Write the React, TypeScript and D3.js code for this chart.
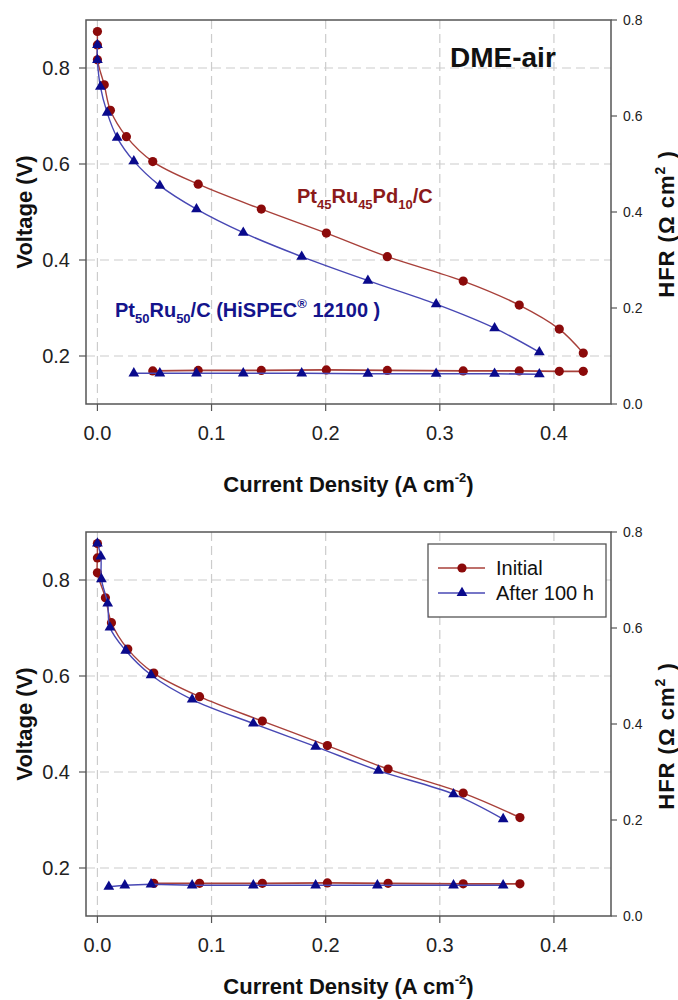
import React from 'react';
import * as d3 from 'd3';

// ---------- axis ticks ----------
const X_TICKS = [0, 0.1, 0.2, 0.3, 0.4];
const V_TICKS = [0.2, 0.4, 0.6, 0.8];
const HFR_TICKS = [0, 0.2, 0.4, 0.6, 0.8];
const X_TICK_LABELS = ['0.0', '0.1', '0.2', '0.3', '0.4'];
const V_TICK_LABELS = ['0.2', '0.4', '0.6', '0.8'];
const HFR_TICK_LABELS = ['0.0', '0.2', '0.4', '0.6', '0.8'];

// ---------- top panel: Pt45Ru45Pd10/C (red) vs Pt50Ru50/C (blue) ----------
const topRedJ = [0, 0, 0, 0.006, 0.0114, 0.0254, 0.0485, 0.0883, 0.1436, 0.2006, 0.254, 0.3205, 0.3696, 0.4047, 0.4257];
const topRedV = [0.876, 0.848, 0.817, 0.765, 0.712, 0.657, 0.605, 0.558, 0.506, 0.456, 0.407, 0.356, 0.306, 0.256, 0.206];
const topBlueJ = [0, 0, 0.0026, 0.0085, 0.0173, 0.0319, 0.0547, 0.0868, 0.1278, 0.179, 0.237, 0.2968, 0.348, 0.3872];
const topBlueV = [0.848, 0.817, 0.761, 0.707, 0.655, 0.606, 0.555, 0.506, 0.457, 0.407, 0.357, 0.308, 0.258, 0.208];
const topRedHfrJ = [0.0485, 0.0883, 0.1436, 0.2006, 0.254, 0.3205, 0.3696, 0.4047, 0.4257];
const topRedHfr = [0.069, 0.070, 0.070, 0.071, 0.070, 0.069, 0.069, 0.068, 0.068];
const topBlueHfrJ = [0.0319, 0.0547, 0.0868, 0.1278, 0.179, 0.237, 0.2968, 0.348, 0.3872];
const topBlueHfr = [0.064, 0.064, 0.064, 0.064, 0.064, 0.063, 0.063, 0.063, 0.062];

// ---------- bottom panel: Initial (red) vs After 100 h (blue) ----------
const botRedJ = [0, 0, 0, 0.007, 0.0123, 0.0266, 0.0494, 0.0895, 0.1445, 0.2015, 0.2547, 0.3205, 0.3702];
const botRedV = [0.876, 0.846, 0.815, 0.763, 0.711, 0.656, 0.606, 0.557, 0.506, 0.455, 0.406, 0.356, 0.305];
const botBlueJ = [0, 0.003, 0.0035, 0.009, 0.011, 0.0248, 0.047, 0.083, 0.1366, 0.1912, 0.2462, 0.312, 0.3555];
const botBlueV = [0.876, 0.849, 0.802, 0.751, 0.701, 0.653, 0.602, 0.551, 0.501, 0.453, 0.403, 0.354, 0.302];
const botRedHfrJ = [0.0494, 0.0895, 0.1445, 0.2015, 0.2547, 0.3205, 0.3702];
const botRedHfr = [0.068, 0.068, 0.068, 0.069, 0.068, 0.067, 0.067];
const botBlueHfrJ = [0.01, 0.024, 0.047, 0.083, 0.1366, 0.1912, 0.2453, 0.312, 0.3555];
const botBlueHfr = [0.061, 0.064, 0.066, 0.064, 0.064, 0.064, 0.064, 0.064, 0.064];

const LEGEND_LABELS = ['Initial', 'After 100 h'];

const RED_LINE = '#a8403a';
const RED_MARK = '#8b0a0a';
const BLUE_LINE = '#4848b4';
const BLUE_MARK = '#0a0a8c';
const AXIS = '#555';
const GRID = '#cccccc';
const FONT = 'Arial, "Liberation Sans", Helvetica, sans-serif';

const zip = (xs: number[], ys: number[]) => xs.map((x, i) => [x, ys[i]] as [number, number]);

const triPath = d3.symbol(d3.symbolTriangle, 50)() as string;

type PanelProps = {
  oy: number;
  titleGap: number;
  polRed: [number, number][];
  polBlue: [number, number][];
  hfrRed: [number, number][];
  hfrBlue: [number, number][];
  children?: React.ReactNode;
};

function Panel({ oy, titleGap, polRed, polBlue, hfrRed, hfrBlue, children }: PanelProps) {
  const L = 86, R = 611, T = oy + 20, B = oy + 404;
  const x = d3.scaleLinear().domain([-0.01, 0.45]).range([L, R]);
  const yV = d3.scaleLinear().domain([0.1, 0.9]).range([B, T]);
  const yH = d3.scaleLinear().domain([0, 0.8]).range([B, T]);
  const curve = d3.line<[number, number]>().x(d => x(d[0])).y(d => yV(d[1])).curve(d3.curveCatmullRom.alpha(0.5));
  const hline = d3.line<[number, number]>().x(d => x(d[0])).y(d => yH(d[1]));

  const circles = (pts: [number, number][], ys: (v: number) => number, key: string) =>
    pts.map((d, i) => <circle key={key + i} cx={x(d[0])} cy={ys(d[1])} r={4.6} fill={RED_MARK} />);
  const tris = (pts: [number, number][], ys: (v: number) => number, key: string) =>
    pts.map((d, i) => <path key={key + i} d={triPath} transform={`translate(${x(d[0])},${ys(d[1])})`} fill={BLUE_MARK} />);

  return (
    <g>
      {/* grid */}
      {X_TICKS.map(t => (
        <line key={'gx' + t} x1={x(t)} x2={x(t)} y1={T} y2={B} stroke={GRID} strokeWidth={1.2} strokeDasharray="9,5" />
      ))}
      {V_TICKS.map(t => (
        <line key={'gy' + t} x1={L} x2={R} y1={yV(t)} y2={yV(t)} stroke={GRID} strokeWidth={1.2} strokeDasharray="9,5" />
      ))}
      {/* frame */}
      <rect x={L} y={T} width={R - L} height={B - T} fill="none" stroke={AXIS} strokeWidth={1.5} />
      {/* left ticks */}
      {V_TICKS.map((t, i) => (
        <g key={'lt' + t}>
          <line x1={L - 7} x2={L} y1={yV(t)} y2={yV(t)} stroke={AXIS} strokeWidth={1.2} />
          <text x={L - 16} y={yV(t)} dy="0.36em" textAnchor="end" fontSize={20} fill="#222" fontFamily={FONT}>{V_TICK_LABELS[i]}</text>
        </g>
      ))}
      {/* bottom ticks */}
      {X_TICKS.map((t, i) => (
        <g key={'bt' + t}>
          <line x1={x(t)} x2={x(t)} y1={B} y2={B + 7} stroke={AXIS} strokeWidth={1.2} />
          <text x={x(t)} y={B + 36} textAnchor="middle" fontSize={20} fill="#222" fontFamily={FONT}>{X_TICK_LABELS[i]}</text>
        </g>
      ))}
      {/* right ticks */}
      {HFR_TICKS.map((t, i) => (
        <g key={'rt' + t}>
          <line x1={R} x2={R + 6} y1={yH(t)} y2={yH(t)} stroke={AXIS} strokeWidth={1.2} />
          <text x={R + 12} y={yH(t)} dy="0.36em" fontSize={14} fill="#222" fontFamily={FONT}>{HFR_TICK_LABELS[i]}</text>
        </g>
      ))}
      {/* axis titles */}
      <text x={(L + R) / 2} y={B + titleGap} textAnchor="middle" fontSize={22} fontWeight="bold" fill="#111" fontFamily={FONT}>
        Current Density (A cm<tspan fontSize={13} dy={-10}>-2</tspan><tspan dy={10}>)</tspan>
      </text>
      <text transform={`translate(32,${(T + B) / 2}) rotate(-90)`} textAnchor="middle" fontSize={22} fontWeight="bold" fill="#111" fontFamily={FONT}>
        Voltage (V)
      </text>
      <text transform={`translate(674,${(T + B) / 2 + 12}) rotate(-90)`} textAnchor="middle" fontSize={22} fontWeight="bold" fill="#111" fontFamily={FONT} letterSpacing={1}>
        HFR (Ω cm<tspan fontSize={14} dy={-9}>2</tspan><tspan dy={9}> )</tspan>
      </text>

      {/* series */}
      <path d={curve(polRed) as string} fill="none" stroke={RED_LINE} strokeWidth={1.4} />
      <path d={hline(hfrRed) as string} fill="none" stroke={RED_LINE} strokeWidth={1.8} />
      {circles(polRed, yV, 'pr')}
      {circles(hfrRed, yH, 'hr')}
      <path d={curve(polBlue) as string} fill="none" stroke={BLUE_LINE} strokeWidth={1.4} />
      <path d={hline(hfrBlue) as string} fill="none" stroke={BLUE_LINE} strokeWidth={1.6} />
      {tris(polBlue, yV, 'pb')}
      {tris(hfrBlue, yH, 'hb')}
      {children}
    </g>
  );
}

export default function App() {
  const legendY = [568, 593];
  return (
    <svg width={678} height={1000} style={{ position: 'absolute', left: 0, top: 0, background: '#fff' }} fontFamily={FONT}>
      <Panel oy={0} titleGap={88} polRed={zip(topRedJ, topRedV)} polBlue={zip(topBlueJ, topBlueV)} hfrRed={zip(topRedHfrJ, topRedHfr)} hfrBlue={zip(topBlueHfrJ, topBlueHfr)}>
        <text x={450} y={67} fontSize={28} fontWeight="bold" fill="#111">DME-air</text>
        <text x={297} y={203} fontSize={20} fontWeight="bold" fill="#8b1a1a">
          Pt<tspan fontSize={13} dy={6}>45</tspan><tspan dy={-6}>Ru</tspan><tspan fontSize={13} dy={6}>45</tspan><tspan dy={-6}>Pd</tspan><tspan fontSize={13} dy={6}>10</tspan><tspan dy={-6}>/C</tspan>
        </text>
        <text x={115} y={317} fontSize={20} fontWeight="bold" fill="#14148c">
          Pt<tspan fontSize={13} dy={6}>50</tspan><tspan dy={-6}>Ru</tspan><tspan fontSize={13} dy={6}>50</tspan><tspan dy={-6}>/C (HiSPEC</tspan><tspan fontSize={13} dy={-9}>®</tspan><tspan dy={9}> 12100 )</tspan>
        </text>
      </Panel>
      <Panel oy={512} titleGap={78} polRed={zip(botRedJ, botRedV)} polBlue={zip(botBlueJ, botBlueV)} hfrRed={zip(botRedHfrJ, botRedHfr)} hfrBlue={zip(botBlueHfrJ, botBlueHfr)}>
        <rect x={428} y={544} width={178} height={73} fill="#fff" stroke={AXIS} strokeWidth={1.3} />
        <line x1={438} x2={485} y1={legendY[0]} y2={legendY[0]} stroke={RED_LINE} strokeWidth={1.4} />
        <circle cx={462} cy={legendY[0]} r={4.6} fill={RED_MARK} />
        <text x={496} y={legendY[0]} dy="0.36em" fontSize={20} fill="#111">{LEGEND_LABELS[0]}</text>
        <line x1={438} x2={485} y1={legendY[1]} y2={legendY[1]} stroke={BLUE_LINE} strokeWidth={1.4} />
        <path d={triPath} transform={`translate(462,${legendY[1]})`} fill={BLUE_MARK} />
        <text x={496} y={legendY[1]} dy="0.36em" fontSize={20} fill="#111">{LEGEND_LABELS[1]}</text>
      </Panel>
    </svg>
  );
}
